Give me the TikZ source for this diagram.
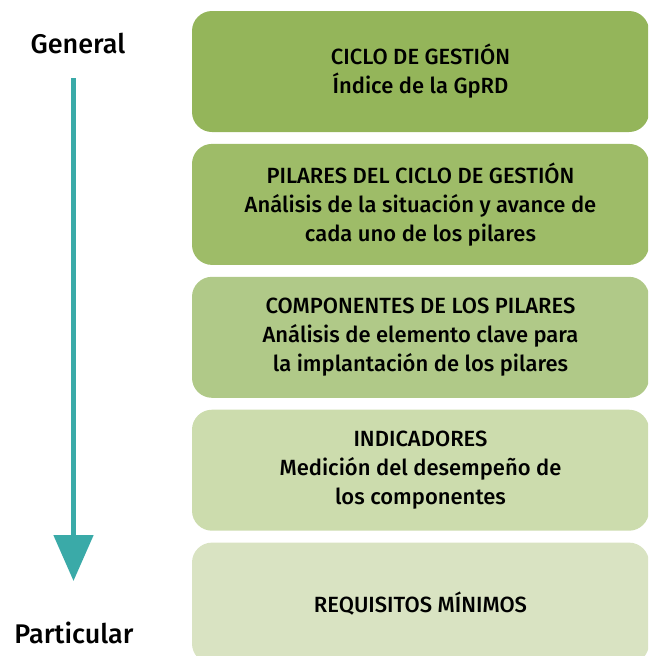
\documentclass[tikz,border=0pt]{standalone}
\usepackage{fontspec}
\setmainfont{Fira Sans Medium}
\usetikzlibrary{arrows.meta,positioning}
\definecolor{levelA}{RGB}{148,181,90}
\definecolor{levelB}{RGB}{158,188,104}
\definecolor{levelC}{RGB}{176,201,136}
\definecolor{levelD}{RGB}{204,220,173}
\definecolor{levelE}{RGB}{217,227,194}
\definecolor{flowteal}{RGB}{58,170,168}

\begin{document}
\begin{tikzpicture}[x=1pt,y=-1pt,
    level/.style={rounded corners=20pt,minimum width=457pt,
      minimum height=121pt,inner sep=0pt,align=center,
      font=\fontsize{22}{29}\selectfont},
    side/.style={anchor=base,font=\fontsize{27}{30}\selectfont},
    flow/.style={flowteal,line width=5pt,
      -{Triangle[width=39pt,length=46pt]}},
    node distance=11.5pt]
 \path[use as bounding box] (0,0) rectangle (648,656);
 \clip (0,0) rectangle (648,656);
 % levels, from the general to the particular
 \node[level,fill=levelA] (ciclo) at (420.5,71.5)
   {CICLO DE GESTIÓN\\Índice de la GpRD};
 \node[level,fill=levelB,below=of ciclo] (pilares)
   {PILARES DEL CICLO DE GESTIÓN\\Análisis de la situación y avance de\\cada uno de los pilares};
 \node[level,fill=levelC,below=of pilares] (componentes)
   {COMPONENTES DE LOS PILARES\\Análisis de elemento clave para\\la implantación de los pilares};
 \node[level,fill=levelD,below=of componentes] (indicadores)
   {INDICADORES\\Medición del desempeño de\\los componentes};
 \node[level,fill=levelE,below=of indicadores] (requisitos)
   {REQUISITOS MÍNIMOS};
 % side labels and arrow
 \node[side] (general) at (78,53) {General};
 \node[side] (particular) at (74,643) {Particular};
 \coordinate (flowtop) at (73.5,78);
 \coordinate (flowtip) at (73.5,581);
 \draw[flow] (flowtop) -- (flowtip);
\end{tikzpicture}
\end{document}
